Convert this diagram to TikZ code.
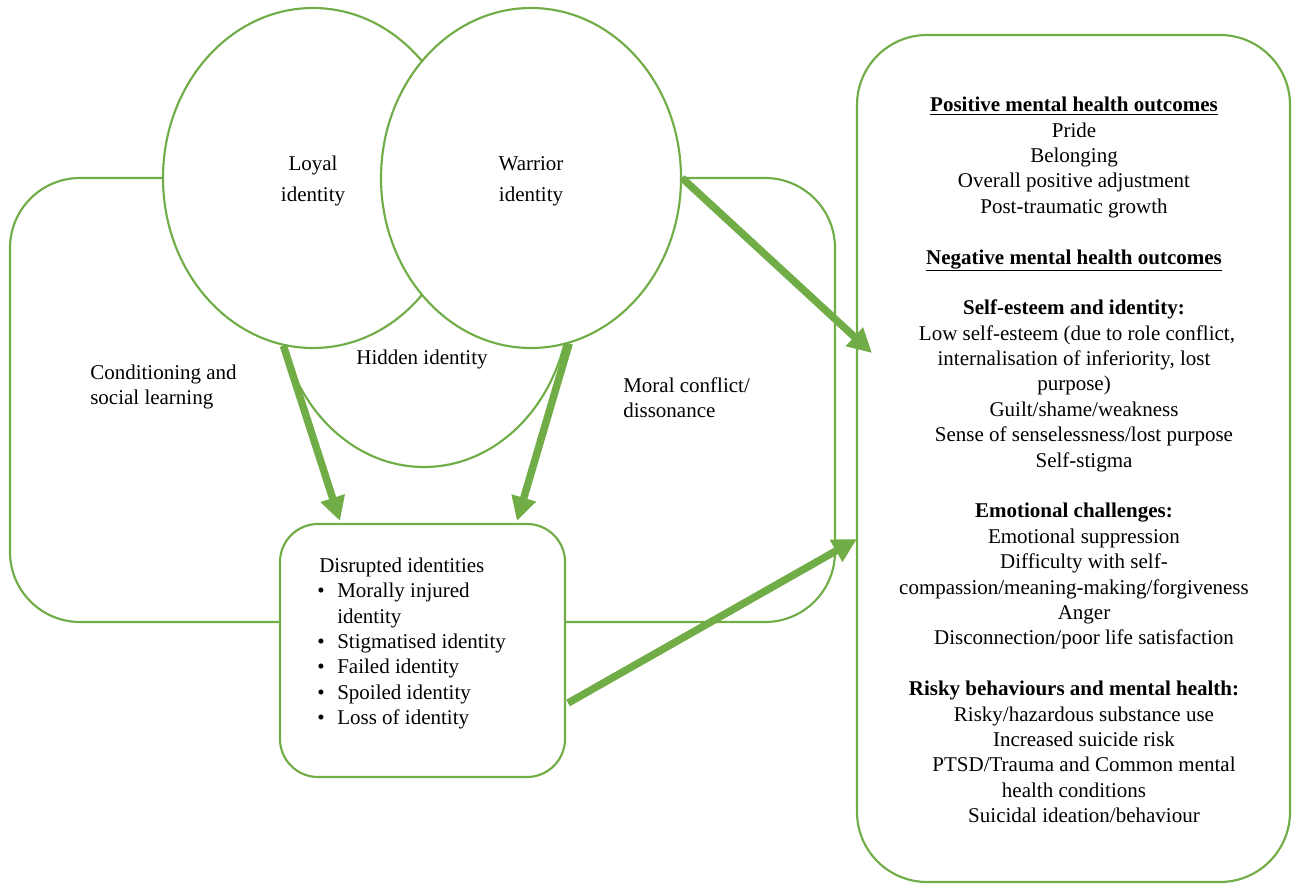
\documentclass[tikz,border=0pt]{standalone}
\usepackage{fontspec}
\setmainfont{Liberation Serif}
\usetikzlibrary{shapes.geometric,arrows.meta,calc}
\definecolor{lgreen}{HTML}{70AD47}
\newcommand\myRshiftX{\hspace*{15pt}}
\newcommand\myBulletX{\hspace*{-1.5pt}\makebox[15pt][l]{\textbullet}}
\begin{document}
\begin{tikzpicture}[x=0.75pt,y=-0.75pt,
  shapeline/.style={draw=lgreen,line width=1.6pt,fill=white},
  idell/.style={shapeline,ellipse,minimum width=225pt,minimum height=255pt,inner sep=0pt},
  idtext/.style={inner sep=0pt,yshift=-2.25pt,align=center,font=\fontsize{15.75pt}{23.25pt}\selectfont},
  rbox/.style={shapeline,rectangle,inner sep=0pt},
  txt/.style={inner sep=0pt,font=\fontsize{15.75pt}{19.04pt}\selectfont},
  bigarrow/.style={draw=lgreen,line width=5.6pt,-{Triangle[length=18pt,width=18pt]}}]
\useasboundingbox (0,0) rectangle (1292,884);
% frame
\node[rbox,rounded corners=52.5pt,minimum width=618.75pt,minimum height=333pt] (frame) at (422.5,400) {};
% identity ellipses
\node[idell,minimum width=219pt] (hidden) at (424,297) {};
\node[idell,label={[idtext]center:Loyal\\identity}] (loyal) at (313,178) {};
\node[idell,label={[idtext]center:Warrior\\identity}] (warrior) at (531,178) {};
% boxes
\node[rbox,rounded corners=28.5pt,minimum width=213.75pt,minimum height=189.75pt] (disrupted) at (422.5,650.5) {};
\node[rbox,rounded corners=52.5pt,minimum width=324.75pt,minimum height=635.25pt] (outcomes) at (1073.5,458.5) {};
% labels
\node[txt,anchor=north west,align=left] (cond) at (90,361.2) {\strut Conditioning and\\social learning};
\node[txt,anchor=north west,align=left] (moral) at (623,374.4) {\strut Moral conflict/\\dissonance};
\node[txt,anchor=base] (hiddenlbl) at (422,364) {Hidden identity};
\node[txt,anchor=north west,align=left] (dlist) at (319,554.2) {\strut Disrupted identities\\
\myBulletX Morally injured\\
\hspace*{13.5pt}identity\\
\myBulletX Stigmatised identity\\
\myBulletX Failed identity\\
\myBulletX Spoiled identity\\
\myBulletX Loss of identity};
\node[txt,anchor=north,align=center] (olist) at (1074,93.7) {\strut\underline{\textbf{Positive mental health outcomes}}\\
Pride\\
Belonging\\
Overall positive adjustment\\
Post-traumatic growth\\
\strut\\
\underline{\textbf{Negative mental health outcomes}}\\
\strut\\
\textbf{Self-esteem and identity:}\\
\hspace*{4.5pt}Low self-esteem (due to role conflict,\\
internalisation of inferiority, lost\\
purpose)\\
\myRshiftX Guilt/shame/weakness\\
\myRshiftX Sense of senselessness/lost purpose\\
\myRshiftX Self-stigma\\
\strut\\
\textbf{Emotional challenges:}\\
\myRshiftX Emotional suppression\\
\myRshiftX Difficulty with self-\\
compassion/meaning-making/forgiveness\\
\myRshiftX Anger\\
\myRshiftX Disconnection/poor life satisfaction\\
\strut\\
\textbf{Risky behaviours and mental health:}\\
\myRshiftX Risky/hazardous substance use\\
\myRshiftX Increased suicide risk\\
\myRshiftX PTSD/Trauma and Common mental\\
health conditions\\
\myRshiftX Suicidal ideation/behaviour};
% arrows
\draw[bigarrow] (loyal.260) -- ($(disrupted.north)+(-82.5,-2)$);
\draw[bigarrow] (warrior.283) -- ($(disrupted.north)+(94.5,-2)$);
\draw[bigarrow] (warrior.east) -- ($(outcomes.west)+(16,-105.5)$);
\draw[bigarrow] ($(disrupted.east)+(2,52.5)$) -- ($(outcomes.west)+(1,80.5)$);
\end{tikzpicture}
\end{document}
